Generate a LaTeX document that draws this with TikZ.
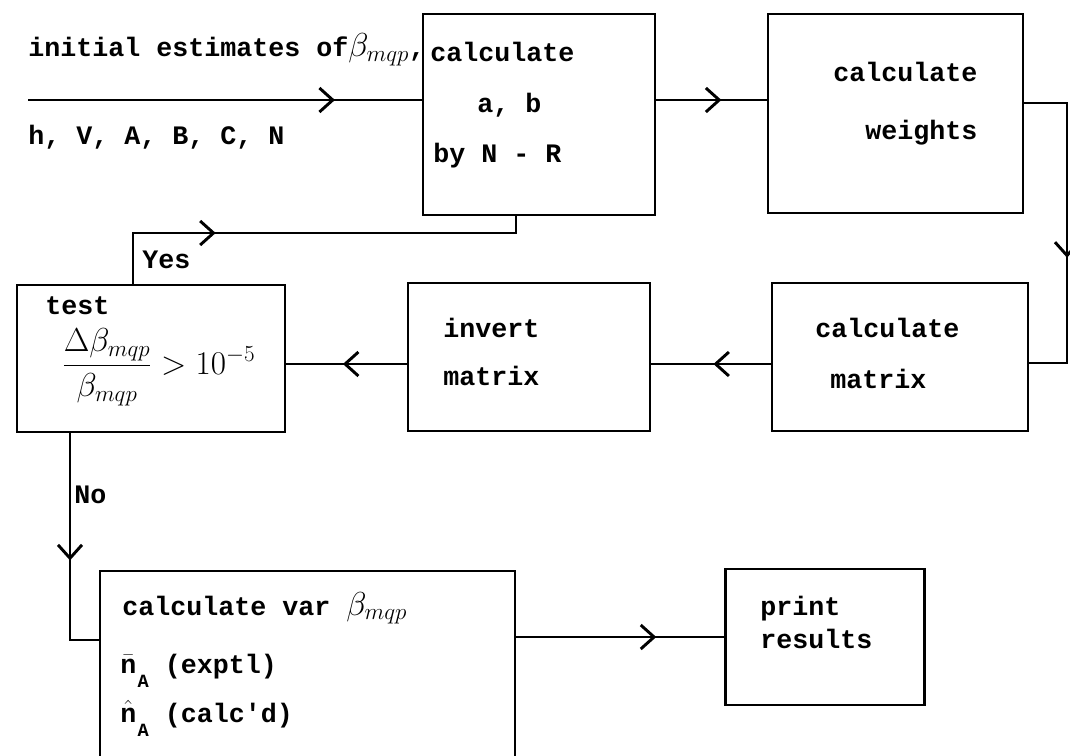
\documentclass[tikz,border=0pt]{standalone}
\usepackage{amsmath}
\usepackage{fontspec}
\setmonofont{Liberation Mono}
\usetikzlibrary{arrows.meta,decorations.markings}
\newcommand{\lowA}{\kern1pt\raisebox{-11pt}{\fontsize{14}{14}\selectfont A}}
\begin{document}
\begin{tikzpicture}[x=0.75pt,y=-0.75pt,
  lw/.style={line width=2.2pt},
  box/.style={draw, lw, inner sep=0pt, rectangle},
  txt/.style={anchor=base west, inner sep=0pt, font=\ttfamily\bfseries\fontsize{20}{24}\selectfont},
  conn/.style={lw},
  midarr/.style={postaction={decorate}, decoration={markings, mark=at position #1 with {\arrow{Straight Barb[length=10pt,width=18pt]}}}}
]
\useasboundingbox (0,0) rectangle (1070,756);
\clip (0,0) rectangle (1070,756);

% boxes
\node[box, minimum width=174pt, minimum height=150.75pt] (box1) at (539,114.5) {};
\node[box, minimum width=191.25pt, minimum height=149.25pt] (box2) at (895.5,113.5) {};
\node[box, minimum width=192pt, minimum height=111pt] (matrix) at (900,357) {};
\node[box, minimum width=181.5pt, minimum height=111pt] (invert) at (529,357) {};
\node[box, minimum width=201pt, minimum height=110.25pt] (test) at (151,358.5) {};
\node[box, minimum width=311.25pt, minimum height=171.75pt] (final) at (307.5,685.5) {};
\node[box, minimum width=149pt, minimum height=102pt] (print) at (825,637) {};

% texts
\node[txt] (t0) at (28,57) {initial estimates of{\fontsize{24}{28}\selectfont$\beta_{mqp}$},};
\node[txt] (t1) at (28,145) {h, V, A, B, C, N};
\node[txt] (b1a) at (430,62) {calculate};
\node[txt] (b1b) at (477,113) {a, b};
\node[txt] (b1c) at (433,162) {by N - R};
\node[txt] (b2a) at (833,82) {calculate};
\node[txt] (b2b) at (865,140) {weights};
\node[txt] (m1t) at (815,337) {calculate};
\node[txt] (m2t) at (830,388) {matrix};
\node[txt] (i1t) at (443,337) {invert};
\node[txt] (i2t) at (443,385) {matrix};
\node[txt] (tt) at (45,314) {test};
\node[anchor=base west, inner sep=0pt] (frac) at (62,374)
  {\fontsize{24}{28}\selectfont$\dfrac{\Delta\beta_{mqp}}{\beta_{mqp}} > 10^{-5}$};
\node[txt] (yes) at (142,268) {Yes};
\node[txt] (no) at (74,503) {No};
\node[txt] (f1) at (122,615) {calculate var {\fontsize{24}{28}\selectfont$\beta_{mqp}$}};
\node[txt] (f2) at (120,673) {$\bar{\text{n}}$\lowA{} (exptl)};
\node[txt] (f3) at (120,722) {$\hat{\text{n}}$\lowA{} (calc'd)};
\node[txt] (p1t) at (760,615) {print};
\node[txt] (p2t) at (760,648) {results};

% coordinates for connector bends
\coordinate (inS) at (28,100);
\coordinate (r1) at (1067,103);
\coordinate (r2) at (1067,363);
\coordinate (mrow) at (0,364);
\coordinate (y1) at (133,233);
\coordinate (yb) at (516,233);
\coordinate (n1) at (70,640);
\coordinate (prow) at (0,637);

% connectors
\draw[conn, midarr=0.78] (inS) -- (inS -| box1.west);
\draw[conn, midarr=0.59] (box1.east |- inS) -- (box2.west |- inS);
\draw[conn, midarr=0.58] (box2.east |- r1) -- (r1) -- (r2) -- (r2 -| matrix.east);
\draw[conn, midarr=0.48] (matrix.west |- mrow) -- (invert.east |- mrow);
\draw[conn, midarr=0.53] (invert.west |- mrow) -- (test.east |- mrow);
\draw[conn, midarr=0.296] (y1 |- test.north) -- (y1) -- (yb) -- (yb |- box1.south);
\draw[conn, midarr=0.54] (n1 |- test.south) -- (n1) -- (n1 -| final.west);
\draw[conn, midarr=0.673] (final.east |- prow) -- (print.west |- prow);
\end{tikzpicture}
\end{document}
